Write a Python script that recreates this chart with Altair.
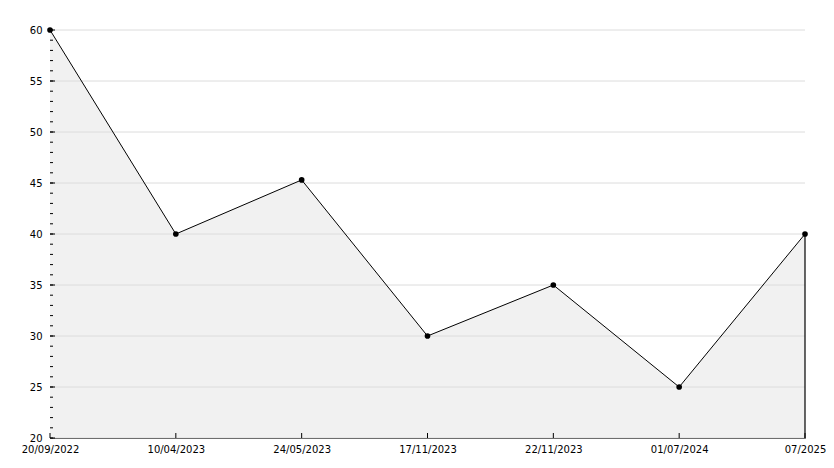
import altair as alt
import pandas as pd

dates = ["20/09/2022", "10/04/2023", "24/05/2023", "17/11/2023", "22/11/2023", "01/07/2024", "07/2025"]
values = [60, 40, 45.3, 30, 35, 25, 40]
y_major = [20, 25, 30, 35, 40, 45, 50, 55, 60]
y_minor = list(range(20, 61))

W, H = 755, 408
df = pd.DataFrame({"date": dates, "value": values})
minor_df = pd.DataFrame({"v": y_minor})
major_df = pd.DataFrame({"v": y_major})
last_df = df.iloc[[-1]]

xs = alt.Scale(type="point", padding=0)
ys = alt.Scale(domain=[20, 60], nice=False, zero=False)
xax = alt.Axis(labelAngle=0, tickSize=0, labelPadding=6, domainColor="black", domainWidth=1,
               title=None, labelOverlap=False, labelFlush=False, grid=False,
               labelFont="DejaVu Sans", labelFontSize=10, labelColor="black")
yax = alt.Axis(values=y_major, tickSize=0, labelPadding=8, domainColor="black", domainWidth=1,
               title=None, grid=False, labelOverlap=False, labelFlush=False,
               labelFont="DejaVu Sans", labelFontSize=10, labelColor="black")

def X():
    return alt.X("date:O", sort=dates, scale=xs, axis=xax, title=None)

def Y(f="value"):
    return alt.Y(f + ":Q", scale=ys, axis=yax, title=None)

area = alt.Chart(df).mark_area(color="#f1f1f1", opacity=1).encode(x=X(), y=Y(), y2=alt.datum(20))

grid = alt.Chart(major_df).mark_rule(color="#dcdcdc", strokeWidth=1).encode(
    y=Y("v"), x=alt.value(0), x2=alt.value(W))

minor = alt.Chart(minor_df).mark_rule(color="black", strokeWidth=1).encode(
    y=Y("v"), x=alt.value(0), x2=alt.value(3))
major = alt.Chart(major_df).mark_rule(color="black", strokeWidth=1).encode(
    y=Y("v"), x=alt.value(0), x2=alt.value(5))

xticks = alt.Chart(df).mark_rule(color="black", strokeWidth=1).encode(
    x=X(), y=alt.value(H - 5), y2=alt.value(H))

edge = alt.Chart(last_df).mark_rule(color="black", strokeWidth=1.2).encode(
    x=X(), y=Y(), y2=alt.datum(20))

line = alt.Chart(df).mark_line(color="black", strokeWidth=1).encode(x=X(), y=Y())
pts = alt.Chart(df).mark_point(filled=True, color="black", opacity=1, size=32, shape="circle").encode(
    x=X(), y=Y())

chart = alt.layer(area, grid, minor, major, xticks, edge, line, pts).properties(
    width=W, height=H,
    background="white",
    autosize=alt.AutoSizeParams(type="none"),
    padding={"left": 42, "top": 22, "right": 21, "bottom": 22},
).configure_view(strokeWidth=0, stroke="transparent")

chart.save("out.html", embed_options={"renderer": "svg", "actions": False})
